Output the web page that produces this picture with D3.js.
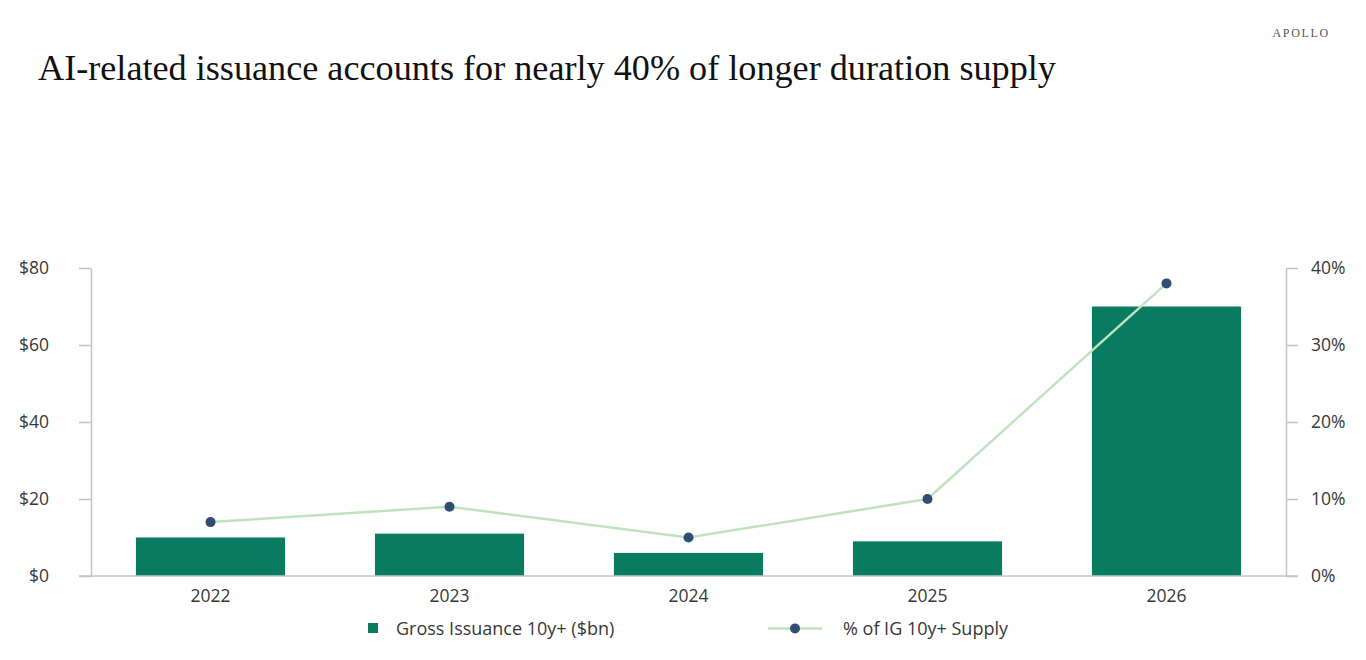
<!DOCTYPE html>
<html><head><meta charset="utf-8">
<script src="https://cdn.jsdelivr.net/npm/d3@7"></script>
<style>
body{margin:0;background:#fff;}
svg{display:block;}
</style></head>
<body>
<svg id="chart" width="1366" height="660"></svg>
<script>
const years = ["2022","2023","2024","2025","2026"];
const issuance = [10, 11, 6, 9, 70];
const pctSupply = [7, 9, 5, 10, 38];
const leftTicks = [0, 20, 40, 60, 80];
const rightTicks = [0, 10, 20, 30, 40];
const titleText = "AI-related issuance accounts for nearly 40% of longer duration supply";
const legendLabels = ["Gross Issuance 10y+ ($bn)", "% of IG 10y+ Supply"];

const svg = d3.select("#chart");
const M = {left: 91, right: 1286, top: 268, bottom: 576};
const barColor = "#087b61", lineColor = "#bfe2bf", dotColor = "#2f4e72", axisColor = "#c4c4c4", textColor = "#383838";
const font = "'Open Sans', 'Noto Sans', sans-serif";

const x = d3.scaleBand().domain(years).range([M.left, M.right]).paddingInner(0.376).paddingOuter(0.188);
const yL = d3.scaleLinear().domain([0, 80]).range([M.bottom, M.top]);
const yR = d3.scaleLinear().domain([0, 40]).range([M.bottom, M.top]);

// title & logo
svg.append("text").attr("x", 38).attr("y", 80)
  .attr("font-family", "'Liberation Serif', 'DejaVu Serif', serif").attr("font-size", 36.2)
  .attr("fill", "#111").text(titleText);
svg.append("text").attr("x", 1330).attr("y", 37).attr("text-anchor", "end")
  .attr("font-family", "'Liberation Serif', serif").attr("font-size", 12)
  .attr("letter-spacing", 1.7).attr("fill", "#555").text("APOLLO");

// bars
svg.append("g").selectAll("rect").data(years).join("rect")
  .attr("x", d => x(d)).attr("width", x.bandwidth())
  .attr("y", (d, i) => yL(issuance[i])).attr("height", (d, i) => yL(0) - yL(issuance[i]))
  .attr("fill", barColor);

// axes
function styleAxis(g) {
  g.select(".domain").attr("stroke", axisColor).attr("stroke-width", 1.5);
  g.selectAll(".tick line").attr("stroke", axisColor).attr("stroke-width", 1.5);
  g.selectAll(".tick text").attr("fill", textColor).attr("font-family", font).attr("font-size", 17.5);
}
svg.append("g").attr("transform", `translate(${M.left},0)`)
  .call(d3.axisLeft(yL).tickValues(leftTicks).tickFormat(d => "$" + d).tickSize(12).tickSizeOuter(0).tickPadding(30))
  .call(styleAxis);
svg.append("g").attr("transform", `translate(${M.right},0)`)
  .call(d3.axisRight(yR).tickValues(rightTicks).tickFormat(d => d + "%").tickSize(12).tickSizeOuter(0).tickPadding(13))
  .call(styleAxis);
svg.append("g").attr("transform", `translate(0,${M.bottom})`)
  .call(d3.axisBottom(x).tickSize(0).tickPadding(14))
  .call(styleAxis)
  .call(g => g.select(".domain").remove());
svg.append("line").attr("x1", M.left - 12).attr("x2", M.right + 12)
  .attr("y1", yL(0)).attr("y2", yL(0)).attr("stroke", axisColor).attr("stroke-width", 1.5);

// line
const cx = d => x(d) + x.bandwidth() / 2;
svg.append("path").datum(years)
  .attr("d", d3.line().x(cx).y((d, i) => yR(pctSupply[i])))
  .attr("fill", "none").attr("stroke", lineColor).attr("stroke-width", 2.5);
svg.append("g").selectAll("circle").data(years).join("circle")
  .attr("cx", cx).attr("cy", (d, i) => yR(pctSupply[i])).attr("r", 5).attr("fill", dotColor);

// legend
const lg = svg.append("g");
lg.append("rect").attr("x", 368).attr("y", 623).attr("width", 10).attr("height", 10).attr("fill", barColor);
lg.append("text").attr("x", 396).attr("y", 635).attr("font-family", font).attr("font-size", 18)
  .attr("fill", textColor).text(legendLabels[0]);
lg.append("line").attr("x1", 768).attr("x2", 822).attr("y1", 628.5).attr("y2", 628.5)
  .attr("stroke", lineColor).attr("stroke-width", 2.5);
lg.append("circle").attr("cx", 795).attr("cy", 628.5).attr("r", 5).attr("fill", dotColor);
lg.append("text").attr("x", 843).attr("y", 635).attr("font-family", font).attr("font-size", 18)
  .attr("fill", textColor).text(legendLabels[1]);
</script>
</body></html>
